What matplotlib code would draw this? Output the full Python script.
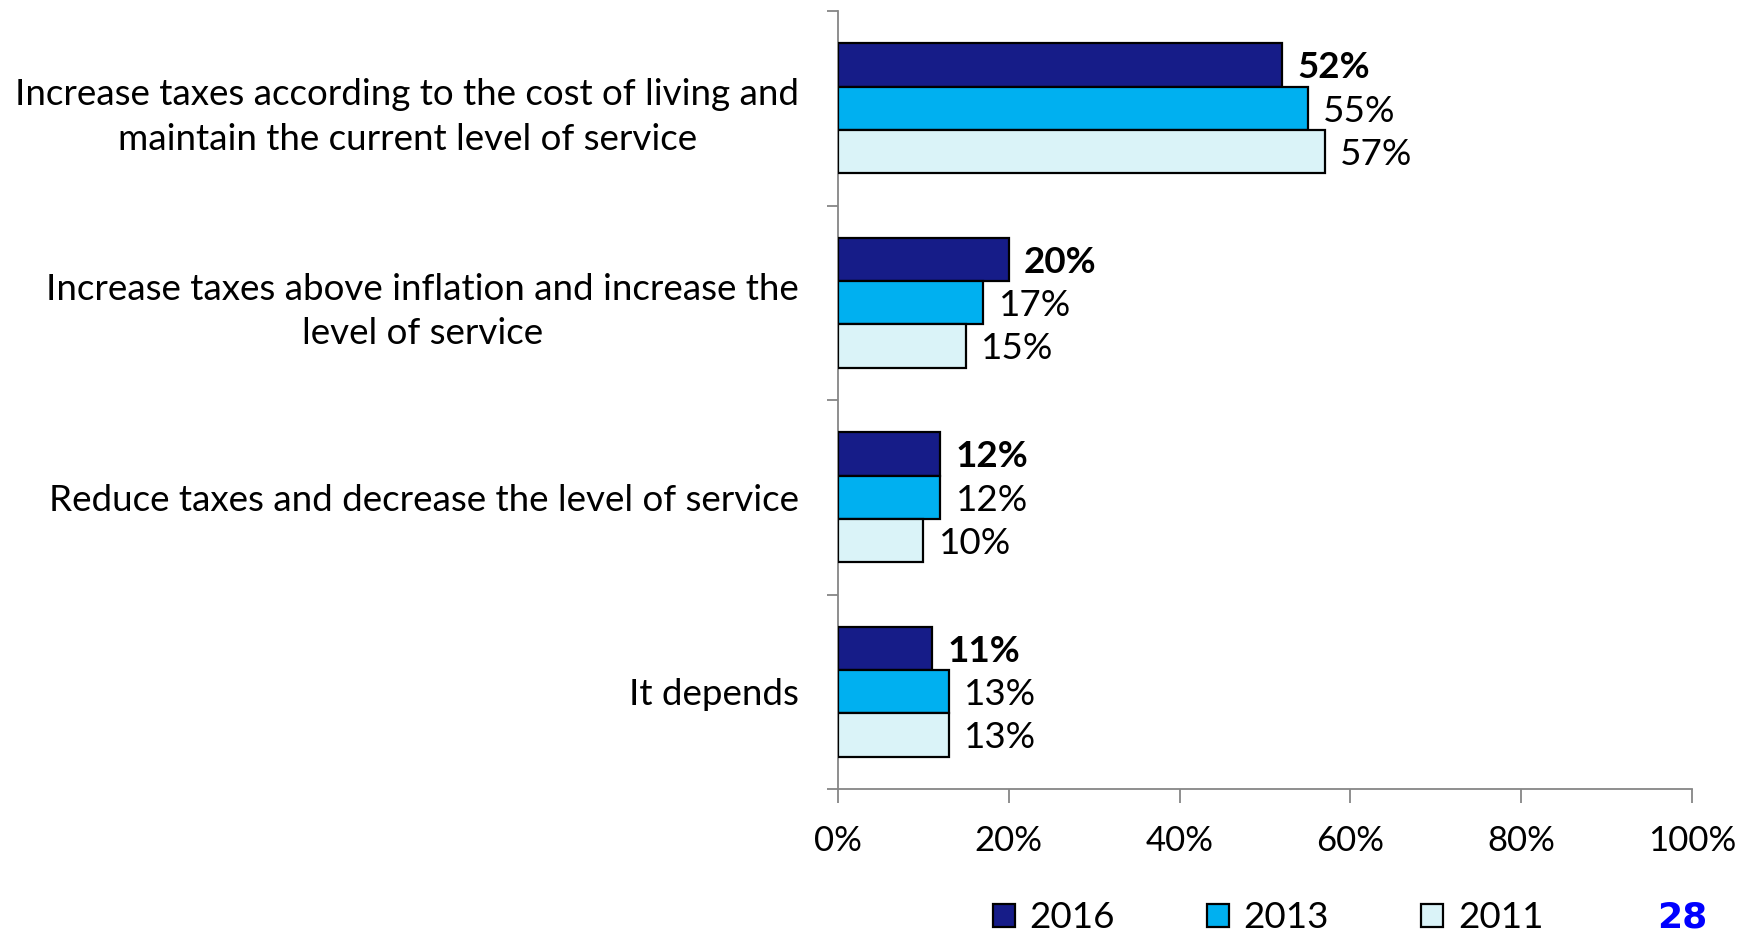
import matplotlib
matplotlib.use("Agg")
import matplotlib.pyplot as plt
import numpy as np
from matplotlib.patches import Patch

categories = [
    "Increase taxes according to the cost of living and\nmaintain the current level of service",
    "Increase taxes above inflation and increase the\nlevel of service",
    "Reduce taxes and decrease the level of service",
    "It depends",
]
years = ["2016", "2013", "2011"]
v2016 = [52, 20, 12, 11]
v2013 = [55, 17, 12, 13]
v2011 = [57, 15, 10, 13]
series = [v2016, v2013, v2011]
colors = ["#161C88", "#00B0F0", "#DAF3F8"]
xticks = [0, 20, 40, 60, 80, 100]
xticklabels = ["0%", "20%", "40%", "60%", "80%", "100%"]
page_number = "28"

plt.rcParams['font.family'] = ['Lato', 'DejaVu Sans']
FS_CAT = 26.5
FS_VAL = 26.5
FS_TICK = 25
FS_LEG = 26.5

fig = plt.figure(figsize=(17.41, 9.32), dpi=100)
ax = fig.add_axes([838/1741, 1 - 789/932, (1692-838)/1741, (789-11)/932])

n = len(categories)
ypos = np.arange(n)[::-1].astype(float)  # top category at highest y
bh = 0.223
offsets = [bh, 0.0, -bh]
for s, vals in enumerate(series):
    bars = ax.barh(ypos + offsets[s], vals, height=bh, color=colors[s],
                   edgecolor="black", linewidth=1.6, label=years[s], zorder=3)
    for b, v in zip(bars, vals):
        ax.annotate(f"{v}%", xy=(b.get_width(), b.get_y() + b.get_height()/2),
                    xytext=(11, -2), textcoords="offset points",
                    va="center", ha="left", fontsize=FS_VAL,
                    fontweight="bold" if s == 0 else "normal")

ax.set_xlim(0, 100)
ax.set_ylim(-0.5, n - 0.5)
ax.set_xticks(xticks)
ax.set_xticklabels(xticklabels, fontsize=FS_TICK)
ax.set_yticks(ypos)
ax.set_yticklabels(categories, fontsize=FS_CAT, ha="right", multialignment="center",
                   linespacing=1.42)
ax.set_yticks(np.arange(-0.5, n, 1.0), minor=True)
ax.tick_params(axis="y", which="major", length=0, pad=28)
ax.tick_params(axis="y", which="minor", length=8, width=1.3, color="#868686")
ax.tick_params(axis="x", length=10, width=1.3, color="#868686", pad=16)
for sp in ["top", "right"]:
    ax.spines[sp].set_visible(False)
for sp in ["left", "bottom"]:
    ax.spines[sp].set_color("#868686")
    ax.spines[sp].set_linewidth(1.3)

handles = [Patch(facecolor=c, edgecolor="black", linewidth=1.6, label=y)
           for c, y in zip(colors, years)]
fig.legend(handles=handles, loc="center", bbox_to_anchor=(1268/1741, 1 - 918/932),
           ncol=3, frameon=False, fontsize=FS_LEG, handlelength=0.6, handleheight=0.6,
           handletextpad=0.4, columnspacing=2.5, borderaxespad=0)

fig.text(1682/1741, 1 - 900/932, page_number, color="#0000FF", fontsize=26,
         fontweight="black", family="DejaVu Sans", ha="center", va="top")

fig.savefig("out.png", dpi=100)
